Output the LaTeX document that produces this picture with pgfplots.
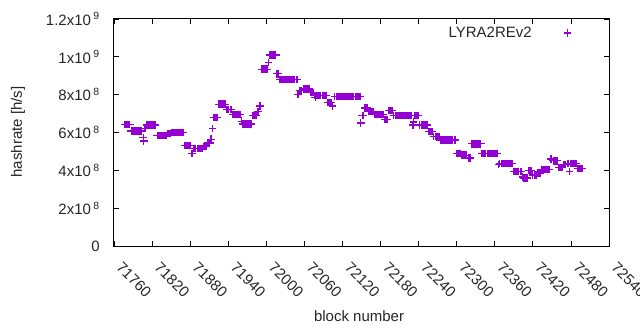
\documentclass[border=0pt]{standalone}
\usepackage{pgfplots}
\pgfplotsset{compat=1.18}
\usepackage{fontspec}
\setmainfont{Liberation Sans}
\definecolor{lyra}{HTML}{9400D3}
\pgfplotstableread{
x y
71777 6.42
71779 6.42
71781 6.42
71783 6.42
71785 6.42
71787 6.08
71789 6.08
71791 6.08
71793 6.08
71795 6.08
71797 6.08
71799 6.08
71801 6.08
71803 6.08
71806 5.75
71807 5.55
71809 6.2
71811 6.4
71813 6.4
71815 6.4
71817 6.4
71819 6.4
71821 6.4
71823 6.4
71825 6.4
71828 5.85
71830 5.85
71832 5.85
71834 5.85
71836 5.85
71838 5.85
71840 5.85
71842 5.85
71845 5.95
71847 5.95
71849 5.95
71851 6.0
71853 6.0
71855 6.0
71857 6.0
71859 6.0
71861 6.0
71863 6.0
71865 6.0
71867 6.0
71869 6.0
71871 5.3
71873 5.3
71875 5.3
71877 5.3
71879 5.3
71881 5.3
71883 4.9
71885 5.15
71887 5.15
71889 5.15
71891 5.15
71893 5.15
71895 5.15
71897 5.15
71899 5.15
71901 5.25
71903 5.25
71905 5.25
71907 5.45
71909 5.45
71911 5.45
71913 5.65
71915 6.2
71917 6.8
71919 6.8
71921 6.8
71923 6.8
71925 7.5
71927 7.5
71929 7.5
71931 7.5
71933 7.5
71935 7.5
71937 7.2
71939 7.2
71941 7.2
71943 7.2
71945 7.2
71947 6.95
71949 6.95
71951 6.95
71953 6.95
71955 6.95
71957 6.95
71959 6.95
71961 6.6
71963 6.45
71965 6.45
71967 6.45
71969 6.45
71971 6.45
71973 6.45
71975 6.45
71977 6.45
71979 6.9
71981 6.9
71983 6.9
71985 6.9
71986 7.1
71988 7.1
71990 7.4
71992 9.35
71994 9.35
71996 9.35
71998 9.35
72000 9.35
72002 9.35
72003 9.7
72005 10.1
72007 10.1
72009 10.1
72011 10.1
72013 10.1
72015 10.1
72017 9.1
72019 9.1
72021 8.8
72023 8.8
72025 8.8
72027 8.8
72029 8.8
72031 8.8
72033 8.8
72035 8.8
72037 8.8
72039 8.8
72041 8.8
72043 8.8
72045 8.8
72047 8.8
72049 8.8
72050 8.0
72052 8.2
72054 8.2
72056 8.2
72058 8.3
72060 8.3
72062 8.3
72064 8.3
72066 8.3
72068 8.3
72070 8.1
72072 8.1
72074 8.1
72076 7.95
72077 7.85
72078 7.95
72080 7.95
72082 7.95
72084 7.95
72086 7.95
72088 7.95
72090 7.95
72092 7.95
72094 7.95
72096 7.6
72098 7.6
72100 7.6
72102 7.6
72104 7.4
72108 7.9
72110 7.9
72112 7.9
72114 7.9
72116 7.9
72118 7.9
72120 7.9
72122 7.9
72124 7.9
72126 7.9
72128 7.9
72130 7.9
72132 7.9
72134 7.9
72136 7.9
72138 7.9
72140 7.9
72142 7.9
72144 7.9
72146 7.9
72148 7.9
72149 6.5
72151 6.9
72153 6.9
72155 7.3
72157 7.3
72159 7.3
72161 7.1
72163 7.1
72165 7.1
72167 7.1
72169 7.1
72171 6.95
72173 6.95
72175 6.95
72177 6.95
72179 6.95
72181 6.95
72183 6.95
72185 6.95
72187 6.7
72189 6.7
72191 6.7
72193 7.15
72195 7.15
72197 7.15
72199 7.15
72201 6.9
72203 6.9
72205 6.9
72207 6.9
72209 6.9
72211 6.9
72213 6.9
72215 6.9
72217 6.9
72219 6.9
72221 6.9
72223 6.9
72225 6.9
72227 6.9
72229 6.9
72231 6.4
72232 6.55
72234 6.9
72236 6.9
72238 6.9
72240 6.9
72242 6.4
72244 6.4
72246 6.4
72248 6.4
72250 6.4
72252 6.4
72254 6.4
72256 6.05
72258 6.05
72260 6.05
72262 6.05
72264 5.8
72266 5.8
72268 5.8
72270 5.8
72272 5.8
72274 5.6
72276 5.6
72278 5.6
72280 5.6
72282 5.6
72284 5.6
72286 5.6
72288 5.6
72290 5.6
72292 5.6
72294 5.6
72296 5.6
72298 5.6
72300 4.9
72302 4.9
72304 4.9
72306 4.9
72308 4.8
72310 4.8
72312 4.8
72314 4.8
72316 4.8
72318 4.65
72320 4.65
72322 4.65
72324 5.4
72326 5.4
72328 5.4
72330 5.4
72332 5.4
72334 5.4
72336 5.4
72338 5.4
72340 4.9
72342 4.9
72344 4.9
72346 4.9
72348 4.9
72350 4.9
72352 4.9
72354 4.9
72356 4.9
72358 4.9
72360 4.9
72362 4.9
72364 4.9
72366 4.3
72368 4.35
72370 4.35
72372 4.35
72374 4.35
72376 4.35
72378 4.35
72380 4.35
72382 4.35
72384 4.35
72386 4.35
72388 4.35
72390 3.95
72392 3.95
72394 3.95
72396 3.95
72398 3.95
72400 3.95
72402 3.95
72404 3.65
72406 3.6
72408 3.6
72410 3.6
72412 3.6
72414 4.0
72416 4.0
72418 4.0
72420 3.75
72422 3.75
72424 3.75
72426 3.75
72428 3.85
72430 3.85
72432 3.85
72434 4.05
72436 4.05
72438 4.05
72440 4.05
72442 4.05
72444 4.05
72446 4.05
72448 4.6
72450 4.6
72452 4.5
72454 4.5
72456 4.5
72458 4.5
72460 4.15
72462 4.15
72464 4.15
72466 4.15
72468 4.3
72470 4.3
72472 4.3
72474 4.35
72476 4.35
72478 3.95
72480 4.35
72482 4.35
72484 4.35
72486 4.35
72488 4.35
72490 4.1
72492 4.1
72494 4.1
72496 4.1
72498 4.1
}\hashdata
\begin{document}
\fontsize{15bp}{17bp}\selectfont
\begin{tikzpicture}
\useasboundingbox (-114bp,-84bp) rectangle (526bp,246bp);
\begin{axis}[
  at={(0,0)}, anchor=south west,
  scale only axis, width=495bp, height=227bp,
  xmin=71760, xmax=72540, ymin=0, ymax=12,
  xtick={71760,71820,...,72540},
  scaled ticks=false,
  ytick={0,2,4,6,8,10,12},
  yticklabels={0,2x10\,\textsuperscript{8},4x10\,\textsuperscript{8},6x10\,\textsuperscript{8},8x10\,\textsuperscript{8},1x10\,\textsuperscript{9},1.2x10\,\textsuperscript{9}},
  /pgf/number format/assume math mode=true,
  /pgf/number format/set thousands separator={},
  /pgf/number format/fixed,
  /pgf/number format/precision=0,
  tick align=inside, major tick length=5bp,
  tick style={black, line width=0.8bp},
  axis line style={black, line width=1bp},
  ticklabel style={font=\fontsize{15bp}{17bp}\selectfont, text=black!85},
  xticklabel style={xshift=9bp, yshift=-4bp, rotate=-45, anchor=north west, inner sep=0pt},
  xticklabel shift=11bp,
  yticklabel style={xshift=-9bp},
  xlabel={block number},
  ylabel={hashrate [h/s]},
  label style={font=\fontsize{15bp}{17bp}\selectfont, text=black!85},
  xlabel style={at={(axis description cs:0.495,-0.308)}, anchor=center},
  ylabel style={at={(axis description cs:-0.194,0.502)}, anchor=center, rotate=0},
  legend style={draw=none, fill=none, at={(axis description cs:0.925,0.938)}, anchor=east, font=\fontsize{15bp}{17bp}\selectfont, text=black!85, inner sep=0pt},
  legend plot pos=right,
  legend image code/.code={\path[draw=none,fill=none] (0bp,0bp) (38bp,0bp); \draw[#1] plot coordinates {(34bp,0bp)};},
]
\addplot[only marks, mark=+, mark size=3.7bp, color=lyra, line width=1.2bp] table[x=x,y=y] {\hashdata};
\addlegendentry{LYRA2REv2}
\end{axis}
\end{tikzpicture}
\end{document}
